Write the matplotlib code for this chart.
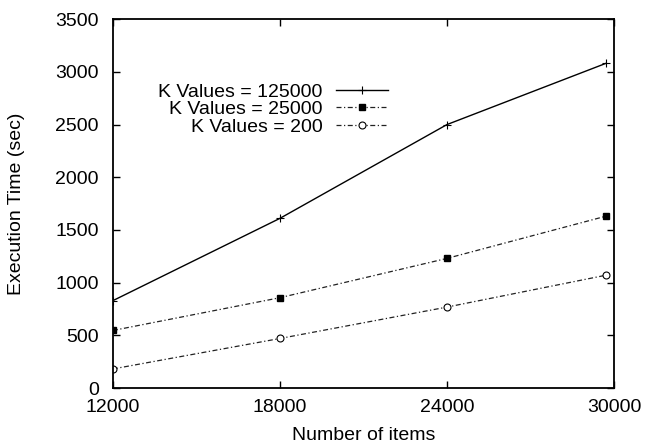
import matplotlib
matplotlib.use("Agg")
import matplotlib.pyplot as plt

plt.rcParams['font.family'] = ['Liberation Sans', 'DejaVu Sans']

# data
items = [12000, 18000, 24000, 29700]
k_125000 = [829, 1610, 2500, 3080]
k_25000 = [546, 857, 1230, 1630]
k_200 = [181, 470, 768, 1070]

x_ticks = [12000, 18000, 24000, 30000]
y_ticks = [0, 500, 1000, 1500, 2000, 2500, 3000, 3500]

fig = plt.figure(figsize=(6.45, 4.46), dpi=100)
ax = fig.add_axes([0.175, 0.130, 0.777, 0.827])

dashdot = (0, (4, 2, 1, 2))
ax.plot(items, k_125000, color='black', lw=1.0, marker='+', ms=6, mew=0.8,
        label='K Values = 125000')
ax.plot(items, k_25000, color='#222222', lw=0.9, ls=dashdot, marker='s', ms=4.5,
        mfc='black', mec='black', label='K Values = 25000')
ax.plot(items, k_200, color='#222222', lw=0.9, ls=dashdot, marker='o', ms=5,
        mfc='white', mec='black', mew=0.8, label='K Values = 200')

ax.set_xlim(12000, 30000)
ax.set_ylim(0, 3500)
ax.set_xticks(x_ticks)
ax.set_yticks(y_ticks)
ax.tick_params(direction='in', length=5, width=1, top=True, right=True,
               labelsize=14)
ax.tick_params(axis='x', pad=8)
ax.tick_params(axis='y', pad=10)
for s in ax.spines.values():
    s.set_linewidth(1.3)

ax.set_xlabel('Number of items', fontsize=14, va='center')
ax.xaxis.set_label_coords(0.5, -0.13)
ax.set_ylabel('Execution Time (sec)', fontsize=14, va='center')
ax.yaxis.set_label_coords(-0.192, 0.5)

ax.legend(loc='upper right', bbox_to_anchor=(0.549, 0.827), frameon=False,
          markerfirst=False, fontsize=14, handlelength=2.7, labelspacing=0.0,
          handletextpad=0.67, borderpad=0, borderaxespad=0)

fig.savefig('out.png', dpi=100)
